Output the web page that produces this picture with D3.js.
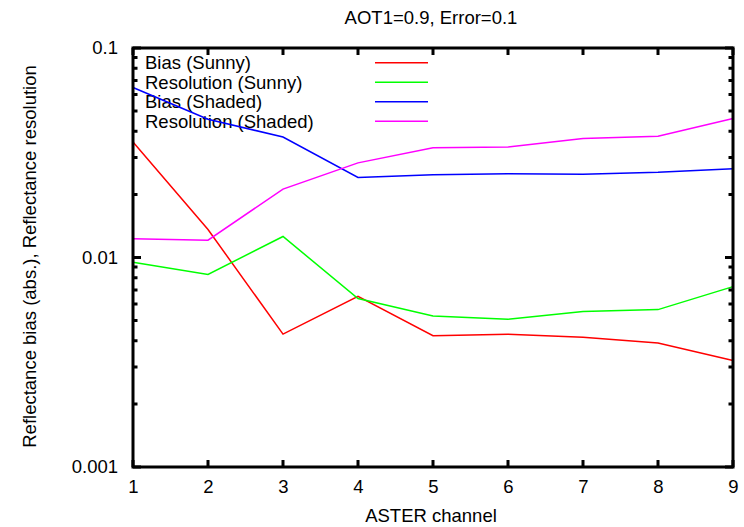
<!DOCTYPE html>
<html>
<head>
<meta charset="utf-8">
<script src="https://cdn.jsdelivr.net/npm/d3@7"></script>
<style>
  html, body { margin: 0; padding: 0; background: #fff; }
  text { font-family: "Liberation Sans", Arial, Helvetica, sans-serif; }
</style>
</head>
<body>
<svg id="chart" width="744" height="527"></svg>
<script>
const channels = [1, 2, 3, 4, 5, 6, 7, 8, 9];
const biasSunny = [0.0356, 0.0136, 0.00431, 0.00653, 0.00423, 0.0043, 0.00416, 0.00391, 0.00322];
const resSunny = [0.0095, 0.0083, 0.0126, 0.00637, 0.00526, 0.00507, 0.00553, 0.00564, 0.00726];
const biasShaded = [0.0648, 0.0457, 0.0376, 0.0241, 0.0248, 0.0251, 0.0250, 0.0255, 0.0265];
const resShaded = [0.0123, 0.0121, 0.0212, 0.0283, 0.0334, 0.0337, 0.0370, 0.0379, 0.0461];
const seriesNames = ["Bias (Sunny)", "Resolution (Sunny)", "Bias (Shaded)", "Resolution (Shaded)"];
const seriesColors = ["#ff0000", "#00ff00", "#0000ff", "#ff00ff"];
const yTickValues = [0.001, 0.01, 0.1];
const yTickLabels = ["0.001", "0.01", "0.1"];
const titleText = "AOT1=0.9, Error=0.1";
const xLabel = "ASTER channel";
const yLabel = "Reflectance bias (abs.), Reflectance resolution";

const seriesValues = [biasSunny, resSunny, biasShaded, resShaded];

const svg = d3.select("#chart");
const pL = 133, pR = 733, pT = 48, pB = 467;
const fs = "18.5px";

const x = d3.scaleLinear().domain([1, 9]).range([pL, pR]);
const y = d3.scaleLog().domain([0.001, 0.1]).range([pB, pT]);

const minorVals = [];
[0.001, 0.01].forEach(d => { for (let k = 2; k <= 9; k++) minorVals.push(d * k); });

// Legend
const legend = svg.append("g");
seriesNames.forEach((name, i) => {
  const ly = 62.7 + i * 19.5;
  legend.append("text").attr("x", 145).attr("y", ly + 6.5)
    .attr("font-size", fs).attr("fill", "#000").text(name);
  legend.append("line").attr("x1", 375).attr("x2", 428)
    .attr("y1", ly).attr("y2", ly)
    .attr("stroke", seriesColors[i]).attr("stroke-width", 1.5);
});

// Data lines
const line = d3.line().x((d, i) => x(channels[i])).y(d => y(d));
seriesValues.forEach((vals, i) => {
  svg.append("path").datum(vals)
    .attr("d", line).attr("fill", "none")
    .attr("stroke", seriesColors[i]).attr("stroke-width", 1.5);
});

// Frame and inward ticks
const frame = svg.append("g").attr("class", "frame");
function tickPath(vals, len, side) {
  return vals.map(v => {
    if (side === "bottom") return `M${x(v)},${pB}V${pB - len}`;
    if (side === "top") return `M${x(v)},${pT}V${pT + len}`;
    if (side === "left") return `M${pL},${y(v)}H${pL + len}`;
    return `M${pR},${y(v)}H${pR - len}`;
  }).join("");
}
const tickD = [
  tickPath(channels, 7, "bottom"),
  tickPath(channels, 7, "top"),
  tickPath(yTickValues, 8, "left"),
  tickPath(minorVals, 4.5, "left"),
  tickPath(yTickValues, 8, "right"),
  tickPath(minorVals, 4.5, "right")
].join("");
frame.append("path").attr("d", tickD)
  .attr("fill", "none").attr("stroke", "#000").attr("stroke-width", 3);
frame.append("path")
  .attr("d", `M${pL},${pT}H${pR}V${pB}H${pL}Z`)
  .attr("fill", "none").attr("stroke", "#000").attr("stroke-width", 3)
  .attr("stroke-linejoin", "miter");

// Tick labels via d3 axes
const gx = svg.append("g").attr("transform", `translate(0,${pB})`)
  .call(d3.axisBottom(x).tickValues(channels).tickFormat(d3.format("d")).tickSize(0).tickPadding(13));
const gy = svg.append("g").attr("transform", `translate(${pL},0)`)
  .call(d3.axisLeft(y).tickValues(yTickValues).tickFormat((d, i) => yTickLabels[i]).tickSize(0).tickPadding(15));
[gx, gy].forEach(g => {
  g.select(".domain").remove();
  g.selectAll(".tick line").remove();
  g.selectAll(".tick text").attr("font-size", fs).attr("fill", "#000")
    .attr("font-family", "Liberation Sans, Arial, sans-serif");
});

svg.append("text").attr("x", (pL + pR) / 2 - 2).attr("y", 24)
  .attr("text-anchor", "middle").attr("font-size", fs).text(titleText);
svg.append("text").attr("x", (pL + pR) / 2 - 2).attr("y", 522)
  .attr("text-anchor", "middle").attr("font-size", fs).text(xLabel);
svg.append("text").attr("transform", "translate(36,256.5) rotate(-90)")
  .attr("text-anchor", "middle").attr("font-size", fs).text(yLabel);
</script>
</body>
</html>
